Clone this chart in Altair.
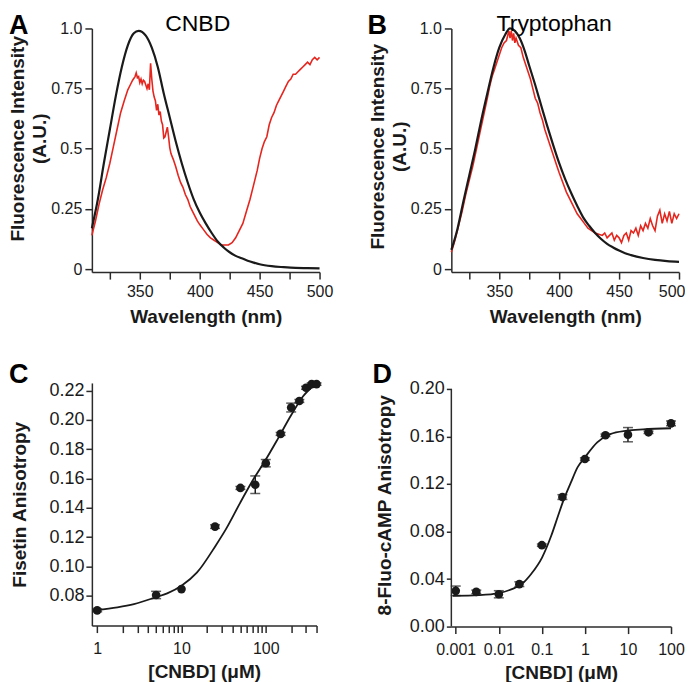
import altair as alt
import pandas as pd

# ---------------- Panel A (CNBD) ----------------
a_black_nm = [310, 315, 320, 325, 330, 335, 340, 345, 349, 355, 360, 365, 370, 375, 380, 385, 390,
              395, 400, 405, 410, 415, 420, 425, 430, 435, 440, 445, 450, 460, 470, 480, 490, 500]
a_black_v = [0.17, 0.29, 0.44, 0.58, 0.72, 0.84, 0.93, 0.98, 0.99, 0.97, 0.92, 0.84, 0.73, 0.63, 0.53,
             0.44, 0.36, 0.29, 0.235, 0.19, 0.15, 0.115, 0.09, 0.07, 0.055, 0.045, 0.035, 0.027, 0.02,
             0.012, 0.008, 0.005, 0.004, 0.003]
a_red_nm = [310, 313, 316, 319, 322, 325, 328, 331, 334, 337, 340, 342, 344, 346, 347, 348, 349, 350,
            351, 352, 353, 354, 355, 356, 357, 358, 359, 360, 361, 362, 363, 364, 365, 366, 367, 368,
            369, 370, 371, 372, 373, 374, 375, 376, 378, 380, 382, 384, 386, 388, 390, 392, 394, 396,
            398, 400, 403, 406, 409, 412, 415, 418, 421, 424, 427, 430, 433, 436, 439, 442, 445, 448,
            450, 452, 454, 456, 458, 460, 462, 464, 466, 468, 470, 472, 474, 476, 478, 480, 482, 484,
            486, 488, 490, 492, 494, 496, 498, 500]
a_red_v = [0.14, 0.20, 0.27, 0.33, 0.38, 0.44, 0.51, 0.58, 0.65, 0.70, 0.745, 0.765, 0.785, 0.80, 0.815,
           0.795, 0.80, 0.775, 0.79, 0.77, 0.785, 0.78, 0.765, 0.75, 0.77, 0.745, 0.855, 0.79, 0.74,
           0.715, 0.70, 0.66, 0.685, 0.64, 0.655, 0.615, 0.60, 0.545, 0.55, 0.57, 0.59, 0.55, 0.505,
           0.48, 0.455, 0.425, 0.39, 0.36, 0.34, 0.31, 0.29, 0.26, 0.24, 0.22, 0.20, 0.185, 0.165,
           0.145, 0.13, 0.12, 0.11, 0.10, 0.10, 0.10, 0.11, 0.13, 0.16, 0.19, 0.24, 0.29, 0.35, 0.41,
           0.46, 0.50, 0.53, 0.55, 0.60, 0.63, 0.65, 0.68, 0.70, 0.72, 0.74, 0.76, 0.78, 0.79, 0.81,
           0.81, 0.82, 0.83, 0.84, 0.85, 0.86, 0.85, 0.87, 0.88, 0.87, 0.88]

# ---------------- Panel B (Tryptophan) ----------------
b_black_nm = [310, 315, 320, 325, 330, 335, 340, 345, 350, 355, 359, 363, 367, 371, 375, 380, 385, 390,
              395, 400, 405, 410, 415, 420, 425, 430, 435, 440, 445, 450, 455, 460, 470, 480, 490, 500]
b_black_v = [0.08, 0.165, 0.28, 0.39, 0.50, 0.62, 0.73, 0.835, 0.92, 0.975, 1.0, 0.99, 0.96, 0.91,
             0.845, 0.765, 0.68, 0.595, 0.515, 0.44, 0.374, 0.316, 0.263, 0.215, 0.18, 0.15, 0.125,
             0.105, 0.09, 0.077, 0.066, 0.058, 0.046, 0.038, 0.033, 0.03]
b_red_nm = [310, 313, 316, 319, 322, 325, 328, 331, 334, 337, 340, 342, 344, 346, 348, 350, 352, 354,
            356, 357, 358, 359, 360, 361, 362, 363, 364, 366, 368, 370, 372, 374, 376, 378, 380, 382,
            384, 386, 388, 390, 392, 394, 396, 398, 400, 403, 406, 409, 412, 415, 418, 421, 424, 427,
            430, 433, 436, 438, 440, 442, 444, 446, 448, 450, 452, 454, 456, 458, 460, 462, 464, 466,
            468, 470, 472, 474, 476, 478, 480, 482, 484, 486, 488, 490, 492, 494, 496, 498, 500]
b_red_v = [0.07, 0.12, 0.18, 0.24, 0.31, 0.37, 0.43, 0.50, 0.57, 0.64, 0.71, 0.76, 0.80, 0.83, 0.86,
           0.89, 0.92, 0.94, 0.95, 0.97, 0.99, 0.96, 0.99, 0.95, 0.98, 0.94, 0.96, 0.93, 0.92, 0.88,
           0.85, 0.82, 0.79, 0.75, 0.71, 0.69, 0.65, 0.62, 0.58, 0.55, 0.52, 0.49, 0.46, 0.43, 0.40,
           0.36, 0.32, 0.29, 0.26, 0.23, 0.21, 0.19, 0.17, 0.16, 0.15, 0.145, 0.14, 0.15, 0.13, 0.14,
           0.15, 0.12, 0.14, 0.13, 0.11, 0.14, 0.15, 0.12, 0.16, 0.15, 0.17, 0.14, 0.18, 0.16, 0.19,
           0.17, 0.21, 0.18, 0.16, 0.22, 0.245, 0.19, 0.23, 0.20, 0.24, 0.19, 0.23, 0.21, 0.23]

# ---------------- Panel C (Fisetin anisotropy) ----------------
c_conc = [1, 5, 10, 25, 50, 75, 100, 150, 200, 250, 300, 350, 400]
c_aniso = [0.0700, 0.0805, 0.0845, 0.1272, 0.1536, 0.1558, 0.1705, 0.1905, 0.2085, 0.2130, 0.2220,
           0.2245, 0.2245]
c_err = [0.001, 0.0025, 0.0, 0.0012, 0.001, 0.006, 0.0025, 0.001, 0.003, 0.001, 0.001, 0.0008, 0.0008]
c_fit_x = [0.98, 1.74, 2.73, 4.93, 6.77, 10, 15.3, 25.3, 34.5, 49.8, 71.3, 100, 141, 202, 277, 380]
c_fit_y = [0.0702, 0.0721, 0.0743, 0.0789, 0.0816, 0.0868, 0.0959, 0.114, 0.1265, 0.1436, 0.1595,
           0.173, 0.1878, 0.2037, 0.2162, 0.2241]

# ---------------- Panel D (8-Fluo-cAMP anisotropy) ----------------
d_conc = [0.001, 0.003, 0.01, 0.03, 0.1, 0.3, 1, 3, 10, 30, 100]
d_aniso = [0.0301, 0.0292, 0.0272, 0.0357, 0.0685, 0.1090, 0.1410, 0.1610, 0.1615, 0.1635, 0.1710]
d_err = [0.004, 0.0015, 0.003, 0.002, 0.001, 0.002, 0.001, 0.001, 0.006, 0.001, 0.002]
d_fit_x = [0.00085, 0.00347, 0.01, 0.0201, 0.034, 0.0576, 0.101, 0.165, 0.234, 0.305, 0.473, 0.673,
           1.0, 1.93, 3.89, 9.35, 22.5, 100]
d_fit_y = [0.0258, 0.0264, 0.0281, 0.0315, 0.0357, 0.0447, 0.0581, 0.0764, 0.0924, 0.1045, 0.1213,
           0.134, 0.1424, 0.155, 0.162, 0.1649, 0.166, 0.1669]

FONT = "Liberation Sans"
RED = "#e5261f"
BLACK = "#1a1a1a"


def text_layer(txt, x, y, size, weight="normal", align="left"):
    return alt.Chart(pd.DataFrame({"t": [txt]})).mark_text(
        font=FONT, fontSize=size, fontWeight=weight, align=align, baseline="alphabetic", color="black"
    ).encode(text="t:N", x=alt.value(x), y=alt.value(y))


def spectrum_panel(bx, bv, rx, rv, letter, title, title_x, letter_x, ytitle_y, flush):
    xaxis_kw = dict(labelFlush=True, labelFlushOffset=6) if flush else dict(labelFlush=False)
    xenc = alt.X("nm:Q", scale=alt.Scale(domain=[310, 500], nice=False, zero=False),
                 axis=alt.Axis(values=list(range(325, 501, 25)),
                               labelExpr="datum.value % 50 == 0 ? format(datum.value, 'd') : ''",
                               title="Wavelength (nm)", tickSize=7, labelPadding=4, labelFontSize=16,
                               titleFontSize=19, titleFontWeight="bold", titlePadding=8,
                               labelOverlap=False, **xaxis_kw))
    yenc = alt.Y("v:Q", scale=alt.Scale(domain=[-0.0125, 1.0], nice=False, zero=False),
                 axis=alt.Axis(values=[0, 0.25, 0.5, 0.75, 1.0],
                               labelExpr="datum.value == 1 ? '1.0' : format(datum.value, '')",
                               title=["Fluorescence Intensity", "(A.U.)"], tickSize=7, labelPadding=3,
                               labelFontSize=16, titleFontSize=19, titleFontWeight="bold",
                               titlePadding=1, titleLineHeight=22, titleY=ytitle_y,
                               labelOverlap=False, labelFlush=False))
    red = alt.Chart(pd.DataFrame({"nm": rx, "v": rv})).mark_line(
        color=RED, strokeWidth=1.6).encode(x=xenc, y=yenc)
    black = alt.Chart(pd.DataFrame({"nm": bx, "v": bv})).mark_line(
        color=BLACK, strokeWidth=2.2, interpolate="monotone").encode(x=xenc, y=yenc)
    return alt.layer(
        red, black,
        text_layer(letter, letter_x, 6, 27, "bold"),
        text_layer(title, title_x, 3, 23, "normal", "center"),
    ).properties(width=228, height=244)


def binding_panel(conc, an, err, fx, fy, xdom, ydom, xvals, xlabel_expr, yvals, ytitle,
                  letter, letter_x, width, height, ytitle_pad, ydomain_line, ytick):
    df = pd.DataFrame({"c": conc, "a": an, "lo": [a - e for a, e in zip(an, err)],
                       "hi": [a + e for a, e in zip(an, err)], "e": err})
    dfe = df[df["e"] > 0]
    xenc = alt.X("c:Q", scale=alt.Scale(type="log", domain=xdom, nice=False),
                 axis=alt.Axis(values=xvals, labelExpr=xlabel_expr, title="[CNBD] (μM)", tickSize=7,
                               labelPadding=8, labelFontSize=16, titleFontSize=19,
                               titleFontWeight="bold", titlePadding=6, labelOverlap=False,
                               labelFlush=False))
    yaxis = alt.Axis(values=yvals, format=".2f", title=ytitle, tickSize=ytick, labelPadding=2,
                     labelFontSize=18, titleFontSize=19, titleFontWeight="bold",
                     titlePadding=ytitle_pad, labelOverlap=False, domain=ydomain_line,
                     labelFlush=False)
    yscale = alt.Scale(domain=ydom, nice=False, zero=False)
    yenc = alt.Y("a:Q", scale=yscale, axis=yaxis)
    fit = alt.Chart(pd.DataFrame({"c": fx, "a": fy})).mark_line(
        color=BLACK, strokeWidth=1.8, interpolate="monotone").encode(x=xenc, y=yenc)
    bars = alt.Chart(dfe).mark_rule(color=BLACK, strokeWidth=1.5).encode(
        x=xenc, y=alt.Y("lo:Q", scale=yscale, axis=yaxis), y2="hi:Q")
    cap_lo = alt.Chart(dfe).mark_tick(orient="horizontal", size=10, thickness=1.5, color=BLACK).encode(
        x=xenc, y=alt.Y("lo:Q", scale=yscale, axis=yaxis))
    cap_hi = alt.Chart(dfe).mark_tick(orient="horizontal", size=10, thickness=1.5, color=BLACK).encode(
        x=xenc, y=alt.Y("hi:Q", scale=yscale, axis=yaxis))
    pts = alt.Chart(df).mark_circle(color=BLACK, opacity=1, size=75).encode(x=xenc, y=yenc)
    layers = [fit, bars, cap_lo, cap_hi, pts, text_layer(letter, letter_x, 0, 27, "bold")]
    return alt.layer(*layers).properties(width=width, height=height)


panel_a = spectrum_panel(a_black_nm, a_black_v, a_red_nm, a_red_v, "A", "CNBD", 106, -83, 110, False)
panel_b = spectrum_panel(b_black_nm, b_black_v, b_red_nm, b_red_v, "B", "Tryptophan", 103, -84, 118,
                         True)

c_xvals = [1, 2, 3, 4, 5, 6, 7, 8, 9, 10, 20, 30, 40, 50, 60, 70, 80, 90, 100, 200, 300, 400]
panel_c = binding_panel(
    c_conc, c_aniso, c_err, c_fit_x, c_fit_y, [0.865, 400], [0.0596, 0.2253], c_xvals,
    "datum.value == 1 ? '1' : datum.value == 10 ? '10' : datum.value == 100 ? '100' : ''",
    [0.08, 0.10, 0.12, 0.14, 0.16, 0.18, 0.20, 0.22], "Fisetin Anisotropy", "C", -83, 225, 243,
    19, True, 6)

d_ydom = [0.0, 0.20504]
d_xvals = [0.001, 0.01, 0.1, 1, 10, 100]
panel_d_core = binding_panel(
    d_conc, d_aniso, d_err, d_fit_x, d_fit_y, [0.00079, 100], d_ydom, d_xvals,
    "format(datum.value, '~g')",
    [0.0, 0.04, 0.08, 0.12, 0.16, 0.20], "8-Fluo-cAMP Anisotropy", "D", -79, 220, 244,
    15, False, 5)
d_axis_line = alt.Chart(pd.DataFrame({"a": [0.0], "a2": [0.20]})).mark_rule(
    color="#2b2b2b", strokeWidth=1.5).encode(
    x=alt.value(0), y=alt.Y("a:Q", scale=alt.Scale(domain=d_ydom, nice=False, zero=False),
                            axis=alt.Axis(values=[0.0, 0.04, 0.08, 0.12, 0.16, 0.20], format=".2f",
                                          title="8-Fluo-cAMP Anisotropy", tickSize=5, labelPadding=2,
                                          labelFontSize=18, titleFontSize=19, titleFontWeight="bold",
                                          titlePadding=15, labelOverlap=False, domain=False,
                                          labelFlush=False)),
    y2="a2:Q")
panel_d = alt.layer(panel_d_core, d_axis_line)

chart = alt.concat(
    panel_a, panel_b, panel_c, panel_d, columns=2,
    spacing=alt.RowColnumber(row=111, column=132), bounds="flush", align="none"
).properties(
    padding={"left": 0, "top": 4, "right": 0, "bottom": 0}
).configure_view(stroke=None).configure_axis(
    grid=False, domainColor="#2b2b2b", tickColor="#2b2b2b", domainWidth=1.5, tickWidth=1.5,
    labelColor="#1a1a1a", titleColor="#1a1a1a", labelFont=FONT, titleFont=FONT
)

chart.save("out.html", embed_options={"renderer": "svg", "actions": False})
